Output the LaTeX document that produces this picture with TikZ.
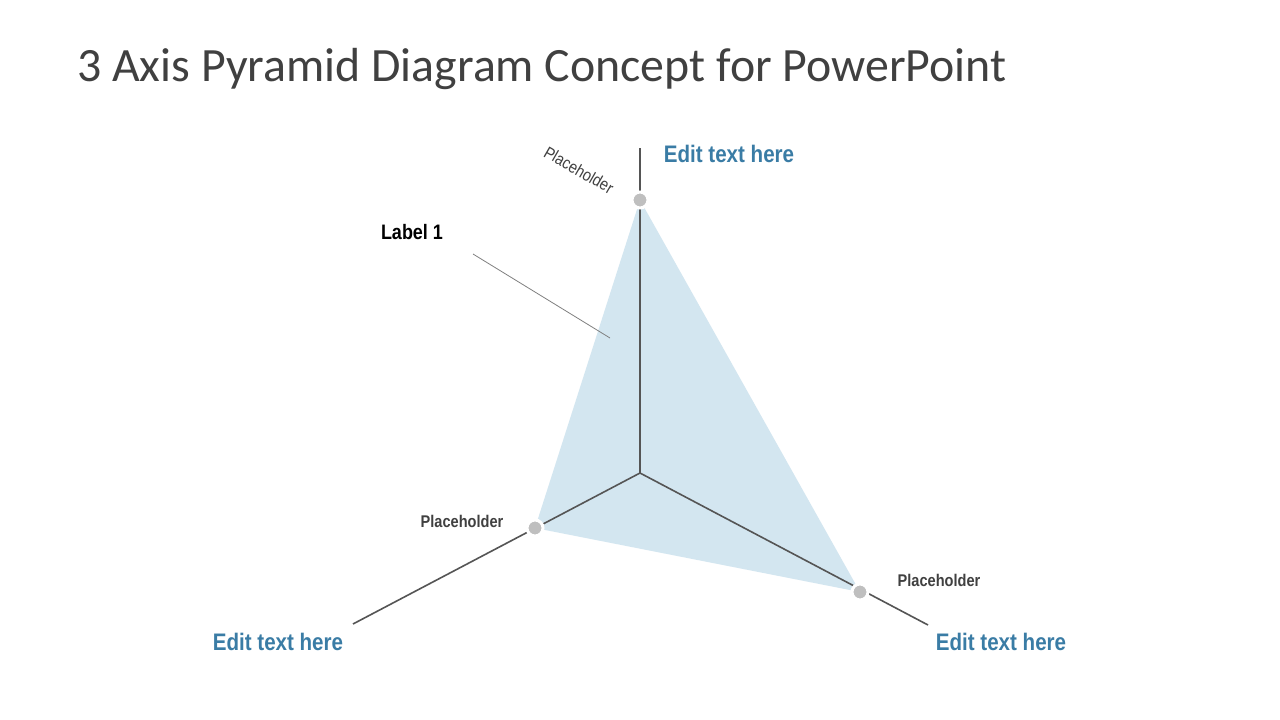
\documentclass[tikz,border=0pt]{standalone}
\usepackage{fontspec}
\setmainfont{Carlito}
\newfontfamily\narrowfont[FakeStretch=0.86]{Liberation Sans}
\definecolor{axisgray}{RGB}{85,85,85}
\definecolor{fillblue}{RGB}{211,230,240}
\definecolor{dotgray}{RGB}{191,191,191}
\definecolor{editblue}{RGB}{58,124,165}
\definecolor{titlegray}{RGB}{64,64,64}
\tikzset{
  axisline/.style={draw=axisgray, line width=1.6bp},
  dotnode/.style={circle, fill=dotgray, draw=white, line width=3bp, minimum size=16bp, inner sep=0pt},
  edittext/.style={font=\narrowfont\bfseries\fontsize{24}{28}\selectfont, text=editblue, inner sep=0pt},
  phtext/.style={font=\narrowfont\bfseries\fontsize{17}{20}\selectfont, text=titlegray, inner sep=0pt},
  labeltext/.style={font=\narrowfont\bfseries\fontsize{21}{24}\selectfont, text=black, inner sep=0pt},
  leader/.style={draw=gray, line width=0.8bp}
}
\begin{document}
\begin{tikzpicture}[x=1bp,y=-1bp]
\useasboundingbox (0,0) rectangle (1280,720);
\fill[white] (0,0) rectangle (1280,720);
% title
\node[anchor=base west, inner sep=0pt, text=titlegray, font=\fontsize{48}{56}\selectfont] (title) at (77,82) {3 Axis Pyramid Diagram Concept for PowerPoint};
% coordinates
\coordinate (O) at (640,473);
\coordinate (topend) at (640,148);
\coordinate (leftend) at (353,624);
\coordinate (rightend) at (928,625);
\coordinate (A) at (640,200);
\coordinate (B) at (535,528);
\coordinate (C) at (860,592);
% fill
\fill[fillblue] (A) -- (B) -- (C) -- cycle;
% axes
\draw[axisline] (O) -- (topend);
\draw[axisline] (O) -- (leftend);
\draw[axisline] (O) -- (rightend);
% dots
\node[dotnode] (dA) at (A) {};
\node[dotnode] (dB) at (B) {};
\node[dotnode] (dC) at (C) {};
% leader line
\coordinate (lstart) at (473,254);
\coordinate (lend) at (610,338);
\draw[leader] (lstart) -- (lend);
\node[labeltext] (lab1) at (412,232) {Label 1};
% placeholders
\node[phtext, font=\narrowfont\fontsize{17}{20}\selectfont, rotate=-30] (phA) at (579,170) {Placeholder};
\node[phtext] (phB) at (462,521) {Placeholder};
\node[phtext] (phC) at (939,580) {Placeholder};
% edit texts
\node[edittext] (eA) at (729,154) {Edit text here};
\node[edittext] (eB) at (278,642) {Edit text here};
\node[edittext] (eC) at (1001,642) {Edit text here};
\end{tikzpicture}
\end{document}
